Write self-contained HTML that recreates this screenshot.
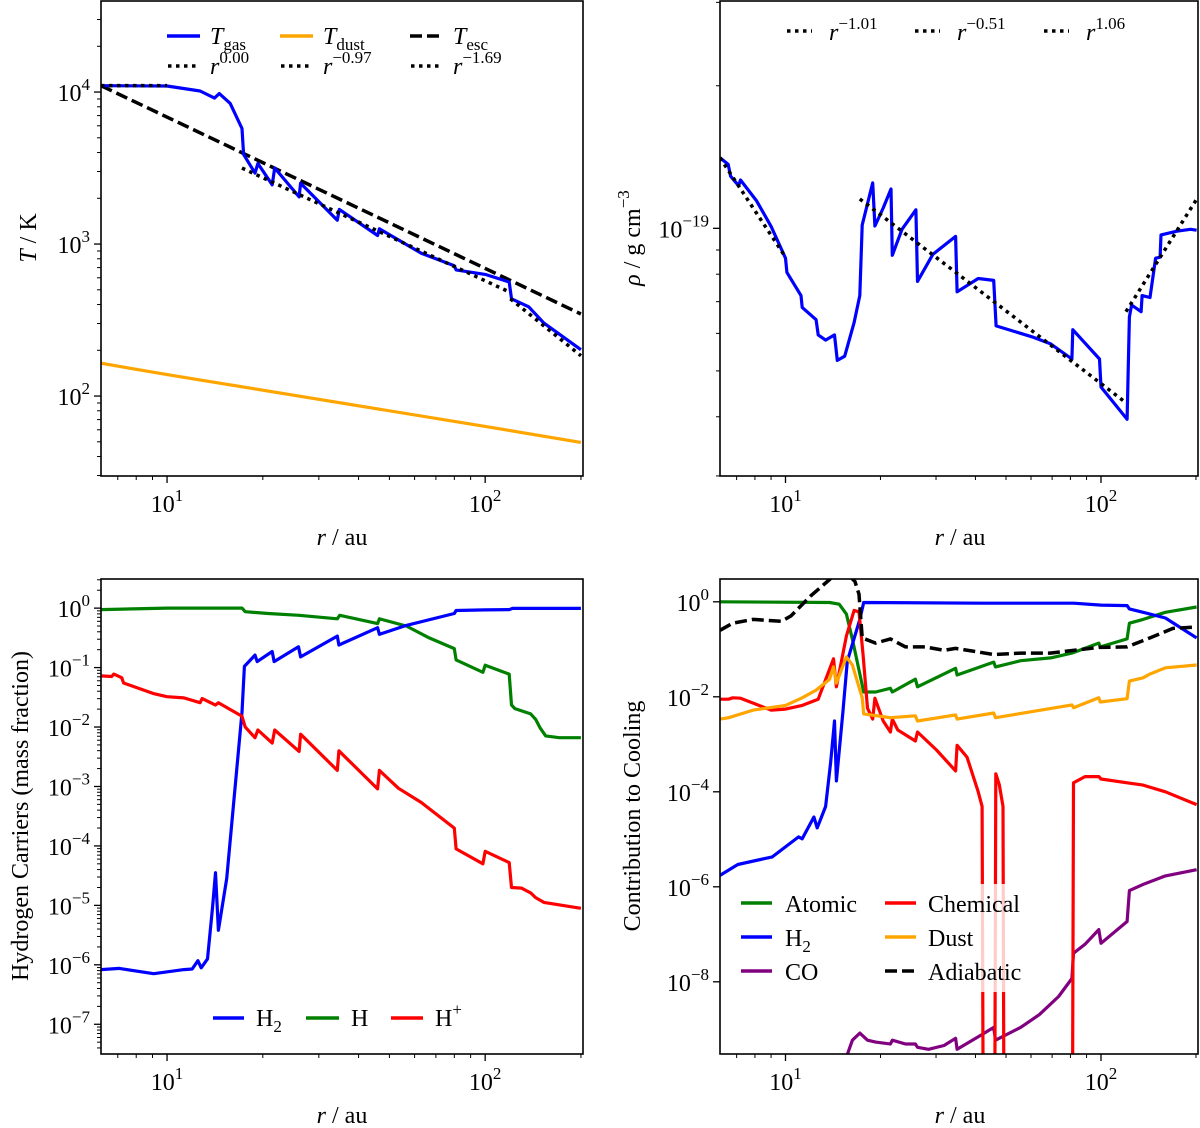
<!DOCTYPE html>
<html><head><meta charset="utf-8"><style>
html,body{margin:0;padding:0;background:#fff;}
svg{display:block;font-family:"Liberation Serif",serif;}
</style></head><body>
<svg id="fig" width="1200" height="1128" viewBox="0 0 1200 1128" xmlns="http://www.w3.org/2000/svg"></svg>
<script>
// ===== Data (log10 of values) =====
const tgasR = [6.2,10,12.7,14.1,14.6,15.8,17.2,17.4,18.9,19.3,21.4,21.8,26.0,26.3,34.3,34.8,45.9,46.5,63,80,81,100,119,121,137,153,200];
const tgasLog = [4.042,4.04,4.007,3.96,3.99,3.925,3.76,3.59,3.467,3.53,3.39,3.50,3.31,3.40,3.157,3.228,3.056,3.10,2.94,2.857,2.83,2.80,2.75,2.64,2.587,2.48,2.305];
const tdustR = [6.2,10,100,200];
const tdustLog = [2.216,2.141,1.80,1.695];
const tescR = [6.2,100,200];
const tescLog = [4.042,2.84,2.54];
const tFitStartR = [6.2,17.2,120];
const tFitEndR = [10,120,200];
const tFitStartLog = [4.042,3.50,2.64];
const tFitSlope = [0.00,-0.97,-1.69];
const tFitLabels = ["0.00","\u22120.97","\u22121.69"];
const rhoR = [6.2,6.58,6.7,7.1,7.2,8.1,9.0,10,10.1,11.2,11.3,12.5,12.7,13.4,14.3,14.6,15.4,16.5,17.2,17.5,18.9,19.2,20.4,21.6,21.8,23.4,25.9,26.2,29.3,34.6,35,40.8,45.7,46.5,60.4,69.3,80.9,81.4,98.9,100,121,123,125,134,135,143,149,154,155,174,192,201];
const rhoLog = [-18.851,-18.865,-18.89,-18.91,-18.898,-18.942,-18.996,-19.063,-19.093,-19.142,-19.167,-19.193,-19.225,-19.236,-19.225,-19.279,-19.27,-19.199,-19.142,-18.993,-18.904,-18.995,-18.957,-18.917,-19.057,-19.002,-18.961,-19.112,-19.055,-19.017,-19.134,-19.106,-19.11,-19.206,-19.229,-19.244,-19.276,-19.214,-19.276,-19.335,-19.403,-19.187,-19.162,-19.176,-19.142,-19.146,-19.063,-19.061,-19.014,-19.006,-19.002,-19.004];
const rFitStartR = [6.2,17.2,120];
const rFitEndR = [10,120,200];
const rFitStartLog = [-18.851,-18.938,-19.176];
const rFitSlope = [-1.01,-0.51,1.06];
const rFitLabels = ["\u22121.01","\u22120.51","1.06"];
const h2R = [6.2,7.08,9.08,11.3,12,12.5,12.8,13.4,13.9,14.2,14.5,15.4,17.2,17.5,18.9,19.2,21.4,21.7,25.9,26.3,34.3,34.7,45.9,46.5,56.5,80,81,100,119,122,200];
const h2Log = [-6.08,-6.06,-6.15,-6.08,-6.07,-5.93,-6.05,-5.9,-5.04,-4.45,-5.42,-4.55,-1.75,-0.98,-0.79,-0.90,-0.73,-0.90,-0.65,-0.82,-0.47,-0.62,-0.33,-0.44,-0.29,-0.09,-0.04,-0.03,-0.024,-0.005,-0.005];
const hR = [6.2,10,17.2,17.6,20.8,26,34.3,34.9,45.9,46.5,56.5,66.7,80,81,98.4,100,119,121,124,139,144,149,155,171,200];
const hLog = [-0.024,0,0,-0.06,-0.09,-0.12,-0.18,-0.12,-0.26,-0.18,-0.3,-0.5,-0.68,-0.87,-1.08,-0.96,-1.11,-1.63,-1.69,-1.78,-1.87,-2.02,-2.15,-2.18,-2.18];
const hpR = [6.2,6.7,6.8,7.2,7.3,9.1,10,11.3,12.7,12.9,14.2,14.5,17.2,17.6,18.9,19.3,21.4,21.8,26,26.3,34.3,34.7,45.9,46.5,53.4,63,80,81,98.4,100,119,121,130,139,144,153,200];
const hpLog = [-1.14,-1.15,-1.11,-1.17,-1.26,-1.44,-1.49,-1.51,-1.59,-1.52,-1.63,-1.59,-1.82,-2.0,-2.18,-2.05,-2.27,-2.05,-2.41,-2.12,-2.73,-2.4,-3.04,-2.73,-3.03,-3.27,-3.70,-4.05,-4.30,-4.09,-4.28,-4.70,-4.71,-4.79,-4.87,-4.95,-5.05];
const atomR = [6.2,13.8,14.8,15.6,16.3,17.7,19.3,21.5,21.8,25.8,26.2,34.6,35,45.7,46.3,55.6,69.3,80.9,98.4,99.5,121,123,136,160,201];
const atomLog = [0,-0.015,-0.05,-0.26,-0.79,-1.90,-1.90,-1.82,-1.90,-1.63,-1.79,-1.40,-1.54,-1.27,-1.37,-1.24,-1.18,-1.08,-0.87,-0.95,-0.78,-0.45,-0.37,-0.22,-0.11];
const coolH2R = [6.2,7.06,9.08,11.0,11.3,12.3,12.6,13.4,13.9,14.3,14.5,15.2,15.7,17.2,17.7,42,82,100,121,123,136,160,201];
const coolH2Log = [-5.76,-5.53,-5.37,-4.95,-4.99,-4.53,-4.76,-4.31,-3.39,-2.51,-3.77,-2.32,-1.25,-0.37,-0.015,-0.03,-0.03,-0.07,-0.08,-0.15,-0.22,-0.34,-0.76];
const chemR = [6.2,6.6,6.8,7.2,9.0,10,11.3,12.7,14.2,14.5,15.6,16.5,17.1,17.6,18.2,18.9,19.2,20.4,21.5,21.8,22.7,25.8,26.2,30.1,34.6,35,37.6,40.8,42,42.4,46,46.4,47.6,48.9,49.3,81.1,81.8,89,98.4,100,121,136,160,201];
const chemLog = [-2.05,-2.05,-2.02,-2.03,-2.28,-2.26,-2.18,-2.05,-1.20,-1.79,-0.72,-0.18,-0.21,-1.10,-2.24,-2.47,-2.03,-2.51,-2.74,-2.47,-2.70,-2.93,-2.74,-3.12,-3.56,-3.02,-3.27,-4.0,-4.31,-12,-12,-3.62,-3.85,-4.31,-12,-12,-3.81,-3.68,-3.68,-3.73,-3.81,-3.86,-4.0,-4.27];
const dustR = [6.2,6.6,7.9,10,11.3,12.5,13.8,14.2,14.5,15.6,16.3,17.5,17.7,21.5,25.8,26.2,34.6,35,45.7,46.3,80.9,81.8,98.4,99.5,121,123,136,143,160,201];
const dustLog = [-2.47,-2.44,-2.28,-2.18,-2.02,-1.86,-1.63,-1.37,-1.71,-1.16,-1.33,-2.02,-2.36,-2.44,-2.40,-2.51,-2.38,-2.47,-2.34,-2.44,-2.17,-2.23,-2.02,-2.11,-2.04,-1.67,-1.60,-1.52,-1.39,-1.33];
const coR = [15.7,16.3,17.2,18.2,19.3,21.5,21.8,24.0,25.8,26.2,28.4,31.8,34.6,35,42,45.7,46.3,55.6,63.8,73.4,80.9,81.8,89,98.4,100,121,123,136,160,201];
const coLog = [-9.53,-9.23,-9.08,-9.23,-9.27,-9.31,-9.23,-9.31,-9.31,-9.38,-9.42,-9.34,-9.19,-9.42,-9.11,-8.96,-9.23,-8.96,-8.69,-8.31,-7.93,-7.40,-7.21,-6.90,-7.19,-6.73,-6.08,-5.95,-5.77,-5.64];
const adiR = [6.2,6.8,7.9,9.7,10.4,12.0,13.8,14.3,15.3,16.6,17.1,17.5,19.3,21.5,24,27.7,31.8,34.6,45.7,55.6,69,98.4,121,143,169,201];
const adiLog = [-0.60,-0.45,-0.37,-0.41,-0.30,0.12,0.47,0.58,0.66,0.43,0.16,-0.76,-0.87,-0.78,-0.95,-0.95,-1.02,-0.98,-1.11,-1.08,-1.08,-0.96,-0.95,-0.76,-0.56,-0.53];

const NS = "http://www.w3.org/2000/svg";
const svg = document.getElementById("fig");
const FS = 24, SUP = 17;
const LX0 = Math.log10(6.2), LX1 = Math.log10(203);
const P = {
  tl:{x0:101,x1:583,y0:1,y1:476,ly0:1.474,ly1:4.599},
  tr:{x0:720,x1:1198,y0:1,y1:476,ly0:-19.523,ly1:-18.52},
  bl:{x0:101,x1:583,y0:579,y1:1054,ly0:-7.5,ly1:0.49},
  br:{x0:720,x1:1198,y0:579,y1:1054,ly0:-9.52,ly1:0.48}
};
function sx(p,r){return p.x0+(Math.log10(r)-LX0)/(LX1-LX0)*(p.x1-p.x0);}
function sy(p,l){return p.y0+(p.ly1-l)/(p.ly1-p.ly0)*(p.y1-p.y0);}
function el(tag,attrs,parent){const e=document.createElementNS(NS,tag);for(const k in attrs)e.setAttribute(k,attrs[k]);(parent||svg).appendChild(e);return e;}

const defs = el("defs",{});
for(const k in P){const p=P[k];const c=el("clipPath",{id:"clip-"+k},defs);el("rect",{x:p.x0,y:p.y0,width:p.x1-p.x0,height:p.y1-p.y0},c);}

function series(k,R,L,color,name,extra){
  const p=P[k];
  const d=R.map((r,i)=>(i?"L":"M")+sx(p,r).toFixed(1)+","+sy(p,L[i]).toFixed(1)).join(" ");
  const path=el("path",Object.assign({d:d,fill:"none",stroke:color,"stroke-width":3.2,"stroke-linejoin":"round","clip-path":"url(#clip-"+k+")"},extra||{}));
  
  
  return path;
}
function fits(k,S,E,SL,SLP,prefix){
  const p=P[k];
  for(let i=0;i<S.length;i++){
    const l1=SL[i]+SLP[i]*(Math.log10(E[i])-Math.log10(S[i]));
    const ln=el("line",{x1:sx(p,S[i]),y1:sy(p,SL[i]),x2:sx(p,E[i]),y2:sy(p,l1),stroke:"#000","stroke-width":3.5,"stroke-dasharray":"3.5,4.5","clip-path":"url(#clip-"+k+")"});
    
    
  }
}
function powText(x,y,base,exp,anchor,name){
  const t=el("text",{x:x,y:y,"font-size":FS,"text-anchor":anchor||"start",fill:"#000"});
  t.appendChild(document.createTextNode(base));
  const s=el("tspan",{dy:-11,"font-size":SUP},t);s.textContent=exp;
  
  
  return t;
}
function axes(k,majorY,labelY,minorY,xlabY){
  const p=P[k];
  const f=el("rect",{x:p.x0,y:p.y0,width:p.x1-p.x0,height:p.y1-p.y0,fill:"none",stroke:"#000","stroke-width":1.6});
  
  
  const xmaj=[10,100], xmin=[7,8,9,20,30,40,50,60,70,80,90,200];
  xmaj.forEach(v=>{const x=sx(p,v);el("line",{x1:x,y1:p.y1,x2:x,y2:p.y1+7,stroke:"#000","stroke-width":1.3});
    powText(x,xlabY,"10",v==10?"1":"2","middle",k+'-x-tick-label');});
  xmin.forEach(v=>{const x=sx(p,v);if(x<=p.x1+0.5)el("line",{x1:x,y1:p.y1,x2:x,y2:p.y1+4,stroke:"#000","stroke-width":1});});
  majorY.forEach(e=>{const y=sy(p,e);el("line",{x1:p.x0-7,y1:y,x2:p.x0,y2:y,stroke:"#000","stroke-width":1.3});
    if(labelY.includes(e))powText(p.x0-11,y+9,"10",e<0?"\u2212"+(-e):String(e),"end",k+'-y-tick-label');});
  if(minorY){
    for(let e=Math.floor(p.ly0);e<=Math.ceil(p.ly1);e++)for(let m=2;m<10;m++){const l=e+Math.log10(m);if(l>p.ly0&&l<p.ly1){const y=sy(p,l);el("line",{x1:p.x0-4,y1:y,x2:p.x0,y2:y,stroke:"#000","stroke-width":1});}}
  }
}
function txt(x,y,s,name,attrs){const t=el("text",Object.assign({x:x,y:y,"font-size":FS,fill:"#000"},attrs||{}));t.textContent=s;return t;}
function htext(attrs,html,name){const t=el("text",Object.assign({"font-size":FS},attrs));t.innerHTML=html;return t;}
function legLine(x,y,w,color,dash,name){const l=el("line",{x1:x,y1:y,x2:x+w,y2:y,stroke:color,"stroke-width":3.5,"stroke-dasharray":dash||"none"});}
function subLabel(x,y,main,sub,name){htext({x:x,y:y},'<tspan font-style="italic">'+main+'</tspan><tspan dy="6" font-size="'+SUP+'">'+sub+'</tspan>',name);}
const rau='<tspan font-style="italic">r</tspan> / au';

// ===== Top-left =====
series("tl",tdustR,tdustLog,"#ffa500","t-dust-line");
series("tl",tescR,tescLog,"#000","t-esc-line",{"stroke-dasharray":"12,5","stroke-width":3.5});
series("tl",tgasR,tgasLog,"#0000ff","t-gas-line");
fits("tl",tFitStartR,tFitEndR,tFitStartLog,tFitSlope,"t");
axes("tl",[2,3,4],[2,3,4],true,512);
htext({transform:"translate(36,238) rotate(-90)","text-anchor":"middle"},'<tspan font-style="italic">T</tspan> / K','y-axis-title-temperature');
htext({x:342,y:545,"text-anchor":"middle"},rau,'x-axis-title-tl');
legLine(167,36,33,"#0000ff",null,"legend-handle-t-gas");subLabel(210,44,"T","gas","legend-label-t-gas");
legLine(280,36,33,"#ffa500",null,"legend-handle-t-dust");subLabel(323,44,"T","dust","legend-label-t-dust");
legLine(410,36,33,"#000","12,5","legend-handle-t-esc");subLabel(453,44,"T","esc","legend-label-t-esc");
[168,281,411].forEach((x,i)=>{legLine(x,66,29,"#000","3.5,4.5","legend-handle-t-fit-"+(i+1));
  htext({x:[210,323,453][i],y:74},'<tspan font-style="italic">r</tspan><tspan dy="-11" font-size="'+SUP+'">'+tFitLabels[i]+'</tspan>','legend-label-t-fit-'+(i+1));});

// ===== Top-right =====
series("tr",rhoR,rhoLog,"#0000ff","density-line");
fits("tr",rFitStartR,rFitEndR,rFitStartLog,rFitSlope,"rho");
axes("tr",[-19],[-19],true,512);
htext({transform:"translate(640,238) rotate(-90)","text-anchor":"middle"},'<tspan font-style="italic">ρ</tspan> / g cm<tspan dy="-11" font-size="'+SUP+'">−3</tspan>','y-axis-title-density');
htext({x:960,y:545,"text-anchor":"middle"},rau,'x-axis-title-tr');
[787,915,1044].forEach((x,i)=>{legLine(x,31,25,"#000","3.5,4.5","legend-handle-rho-fit-"+(i+1));
  htext({x:[829,957,1086][i],y:40},'<tspan font-style="italic">r</tspan><tspan dy="-11" font-size="'+SUP+'">'+rFitLabels[i]+'</tspan>','legend-label-rho-fit-'+(i+1));});

// ===== Bottom-left =====
series("bl",hR,hLog,"#008000","h-line");
series("bl",h2R,h2Log,"#0000ff","h2-line");
series("bl",hpR,hpLog,"#ff0000","h-plus-line");
axes("bl",[0,-1,-2,-3,-4,-5,-6,-7],[0,-1,-2,-3,-4,-5,-6,-7],true,1090);
txt(0,0,"Hydrogen Carriers (mass fraction)","y-axis-title-hydrogen",{transform:"translate(28,816) rotate(-90)","text-anchor":"middle"});
htext({x:342,y:1123,"text-anchor":"middle"},rau,'x-axis-title-bl');
legLine(213,1018,31,"#0000ff",null,"legend-handle-h2");
htext({x:256,y:1026},'H<tspan dy="6" font-size="'+SUP+'">2</tspan>','legend-label-h2');
legLine(306,1018,33,"#008000",null,"legend-handle-h");txt(351,1026,"H","legend-label-h");
legLine(391,1018,32,"#ff0000",null,"legend-handle-h-plus");
htext({x:435,y:1026},'H<tspan dy="-11" font-size="'+SUP+'">+</tspan>','legend-label-h-plus');

// ===== Bottom-right =====
series("br",atomR,atomLog,"#008000","atomic-line");
series("br",coolH2R,coolH2Log,"#0000ff","h2-cooling-line");
series("br",coR,coLog,"#800080","co-line");
series("br",chemR,chemLog,"#ff0000","chemical-line");
series("br",dustR,dustLog,"#ffa500","dust-line");
series("br",adiR,adiLog,"#000","adiabatic-line",{"stroke-dasharray":"12,5","stroke-width":3.5});
axes("br",[0,-2,-4,-6,-8],[0,-2,-4,-6,-8],false,1090);
txt(0,0,"Contribution to Cooling","y-axis-title-cooling",{transform:"translate(640,816) rotate(-90)","text-anchor":"middle"});
htext({x:960,y:1123,"text-anchor":"middle"},rau,'x-axis-title-br');
{const b=el("rect",{x:730,y:884,width:308,height:108,fill:"#fff","fill-opacity":0.8});}
legLine(741,903,31,"#008000",null,"legend-handle-atomic");txt(785,912,"Atomic","legend-label-atomic");
legLine(741,937,31,"#0000ff",null,"legend-handle-h2-cooling");
htext({x:785,y:946},'H<tspan dy="6" font-size="'+SUP+'">2</tspan>','legend-label-h2-cooling');
legLine(741,971,31,"#800080",null,"legend-handle-co");txt(785,980,"CO","legend-label-co");
legLine(885,903,31,"#ff0000",null,"legend-handle-chemical");txt(928,912,"Chemical","legend-label-chemical");
legLine(885,937,31,"#ffa500",null,"legend-handle-dust");txt(928,946,"Dust","legend-label-dust");
legLine(885,971,31,"#000","12,5","legend-handle-adiabatic");txt(928,980,"Adiabatic","legend-label-adiabatic");
</script>
</body></html>
